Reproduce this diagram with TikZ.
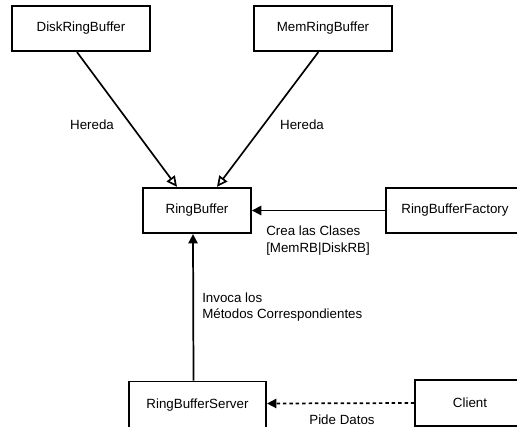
\documentclass[tikz,border=0pt]{standalone}
\usepackage{fontspec}
\setmainfont{Liberation Sans}
\usetikzlibrary{positioning,arrows.meta,calc}
\tikzset{
  cls/.style    = {draw, line width=1.4pt, align=center, minimum height=34pt,
                   minimum width=103.5pt, inner sep=0pt, font=\fontsize{10}{12}\selectfont},
  lbl/.style    = {align=left, inner sep=0pt, font=\fontsize{10}{12.5}\selectfont},
  inherit/.style = {-{Triangle[open, length=8pt, width=7.5pt]}, line width=1.25pt},
  arrow/.style  = {-{Triangle[length=7pt, width=7pt]}, line width=1.3pt},
  dottedarrow/.style = {-{Triangle[length=7pt, width=7pt]}, line width=1.3pt,
                   dash pattern=on 2.6pt off 2.2pt},
}
\begin{document}
\begin{tikzpicture}[x=0.75pt, y=-0.75pt]
  \useasboundingbox (0,0) rectangle (517,426);
  \node[cls] (disk) at (81,28.5) {DiskRingBuffer};
  \node[cls] (mem)  at (323,28.5) {MemRingBuffer};
  \node[cls, minimum width=81pt] (rb) at (197,210.5) {RingBuffer};
  \node[cls] (fac) at (455,210.5) {RingBufferFactory};
  \node[cls, minimum width=103pt, minimum height=36pt] (srv) at (197.5,405.5) {RingBufferServer};
  \node[cls, minimum width=82pt] (cli) at (470,403) {Client};
  % labels
  \node[lbl] (h1) at (92,125) {Hereda};
  \node[lbl] (h2) at (302,125) {Hereda};
  \node[lbl, anchor=west] (crea) at (266,240.5) {Crea las Clases\\{}[MemRB|DiskRB]};
  \node[lbl, anchor=west] (inv) at (202,307) {Invoca los\\Métodos Correspondientes};
  \node[lbl] (pide) at (342,420) {Pide Datos};
  % connectors
  \draw[inherit] ([xshift=-3pt]disk.south) -- ([xshift=-15pt]rb.north);
  \draw[inherit] ([xshift=-3.5pt]mem.south) -- ([xshift=15pt]rb.north);
  \draw[arrow] (fac.west) -- (rb.east);
  \draw[arrow] ([xshift=-3pt]srv.north) -- ([xshift=-3pt]rb.south);
  \draw[dottedarrow] (cli.west) -- ([yshift=1.5pt]srv.east);
\end{tikzpicture}
\end{document}
